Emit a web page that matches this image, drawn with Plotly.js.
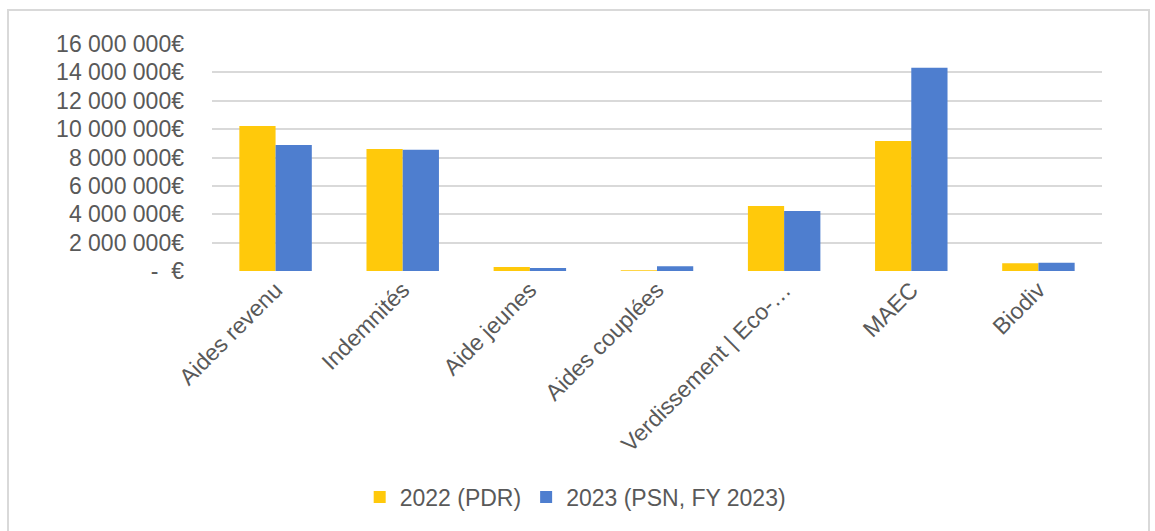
<!DOCTYPE html>
<html><head><meta charset="utf-8">
<script src="https://cdn.plot.ly/plotly-3.0.1.min.js"></script>
<style>
html,body{margin:0;padding:0;background:#fff;}
#wrap{position:relative;width:1155px;height:531px;}
#chart{position:absolute;left:0;top:0;width:1155px;height:531px;}
#frame{position:absolute;left:7px;top:9px;width:1143px;height:530px;border:2px solid #d9d9d9;box-sizing:border-box;pointer-events:none;}
</style>
</head><body>
<div id="wrap"><div id="chart"></div><div id="frame"></div></div>
<script>
const categories = ["Aides revenu","Indemnités","Aide jeunes","Aides couplées","Verdissement | Eco-…","MAEC","Biodiv"];
const seriesNames = ["2022 (PDR)","2023 (PSN, FY 2023)"];
const values2022 = [10220000, 8600000, 280000, 50000, 4580000, 9160000, 540000];
const values2023 = [8880000, 8540000, 210000, 330000, 4230000, 14330000, 580000];
const tickVals = [0,2000000,4000000,6000000,8000000,10000000,12000000,14000000,16000000];
const tickText = ["-\u00a0\u00a0€","2 000 000€","4 000 000€","6 000 000€","8 000 000€","10 000 000€","12 000 000€","14 000 000€","16 000 000€"];

const font = {family:"Liberation Sans, Arial, sans-serif", size:23, color:"#595959"};
const legendFont = {family:"Liberation Sans, Arial, sans-serif", size:23, color:"#595959"};
const traces = [
  {type:"bar", name:seriesNames[0], x:categories, y:values2022, marker:{color:"#FFC90B"}},
  {type:"bar", name:seriesNames[1], x:categories, y:values2023, marker:{color:"#4E7ECF"}}
];
const layout = {
  width:1155, height:531,
  margin:{l:212, r:53, t:44, b:260, pad:0},
  paper_bgcolor:"#fff", plot_bgcolor:"#fff",
  font:font,
  barmode:"group", bargap:0.43, bargroupgap:0,
  showlegend:true,
  legend:{orientation:"h", xref:"container", yref:"container", x:0.498, xanchor:"center", y:0.064, yanchor:"middle", font:legendFont, itemwidth:30, tracegroupgap:0},
  xaxis:{type:"category", tickangle:-45, tickfont:font, showgrid:false, showline:false, zeroline:false, ticks:"", automargin:false},
  yaxis:{range:[0,16000000], tickvals:tickVals, ticktext:tickText, tickfont:font, showgrid:true, gridcolor:"#d9d9d9", gridwidth:2, zeroline:false, showline:false, ticks:"", ticklabelstandoff:27, automargin:false, fixedrange:true}
};
Plotly.newPlot("chart", traces, layout, {displayModeBar:false, staticPlot:true});
</script>
</body></html>
